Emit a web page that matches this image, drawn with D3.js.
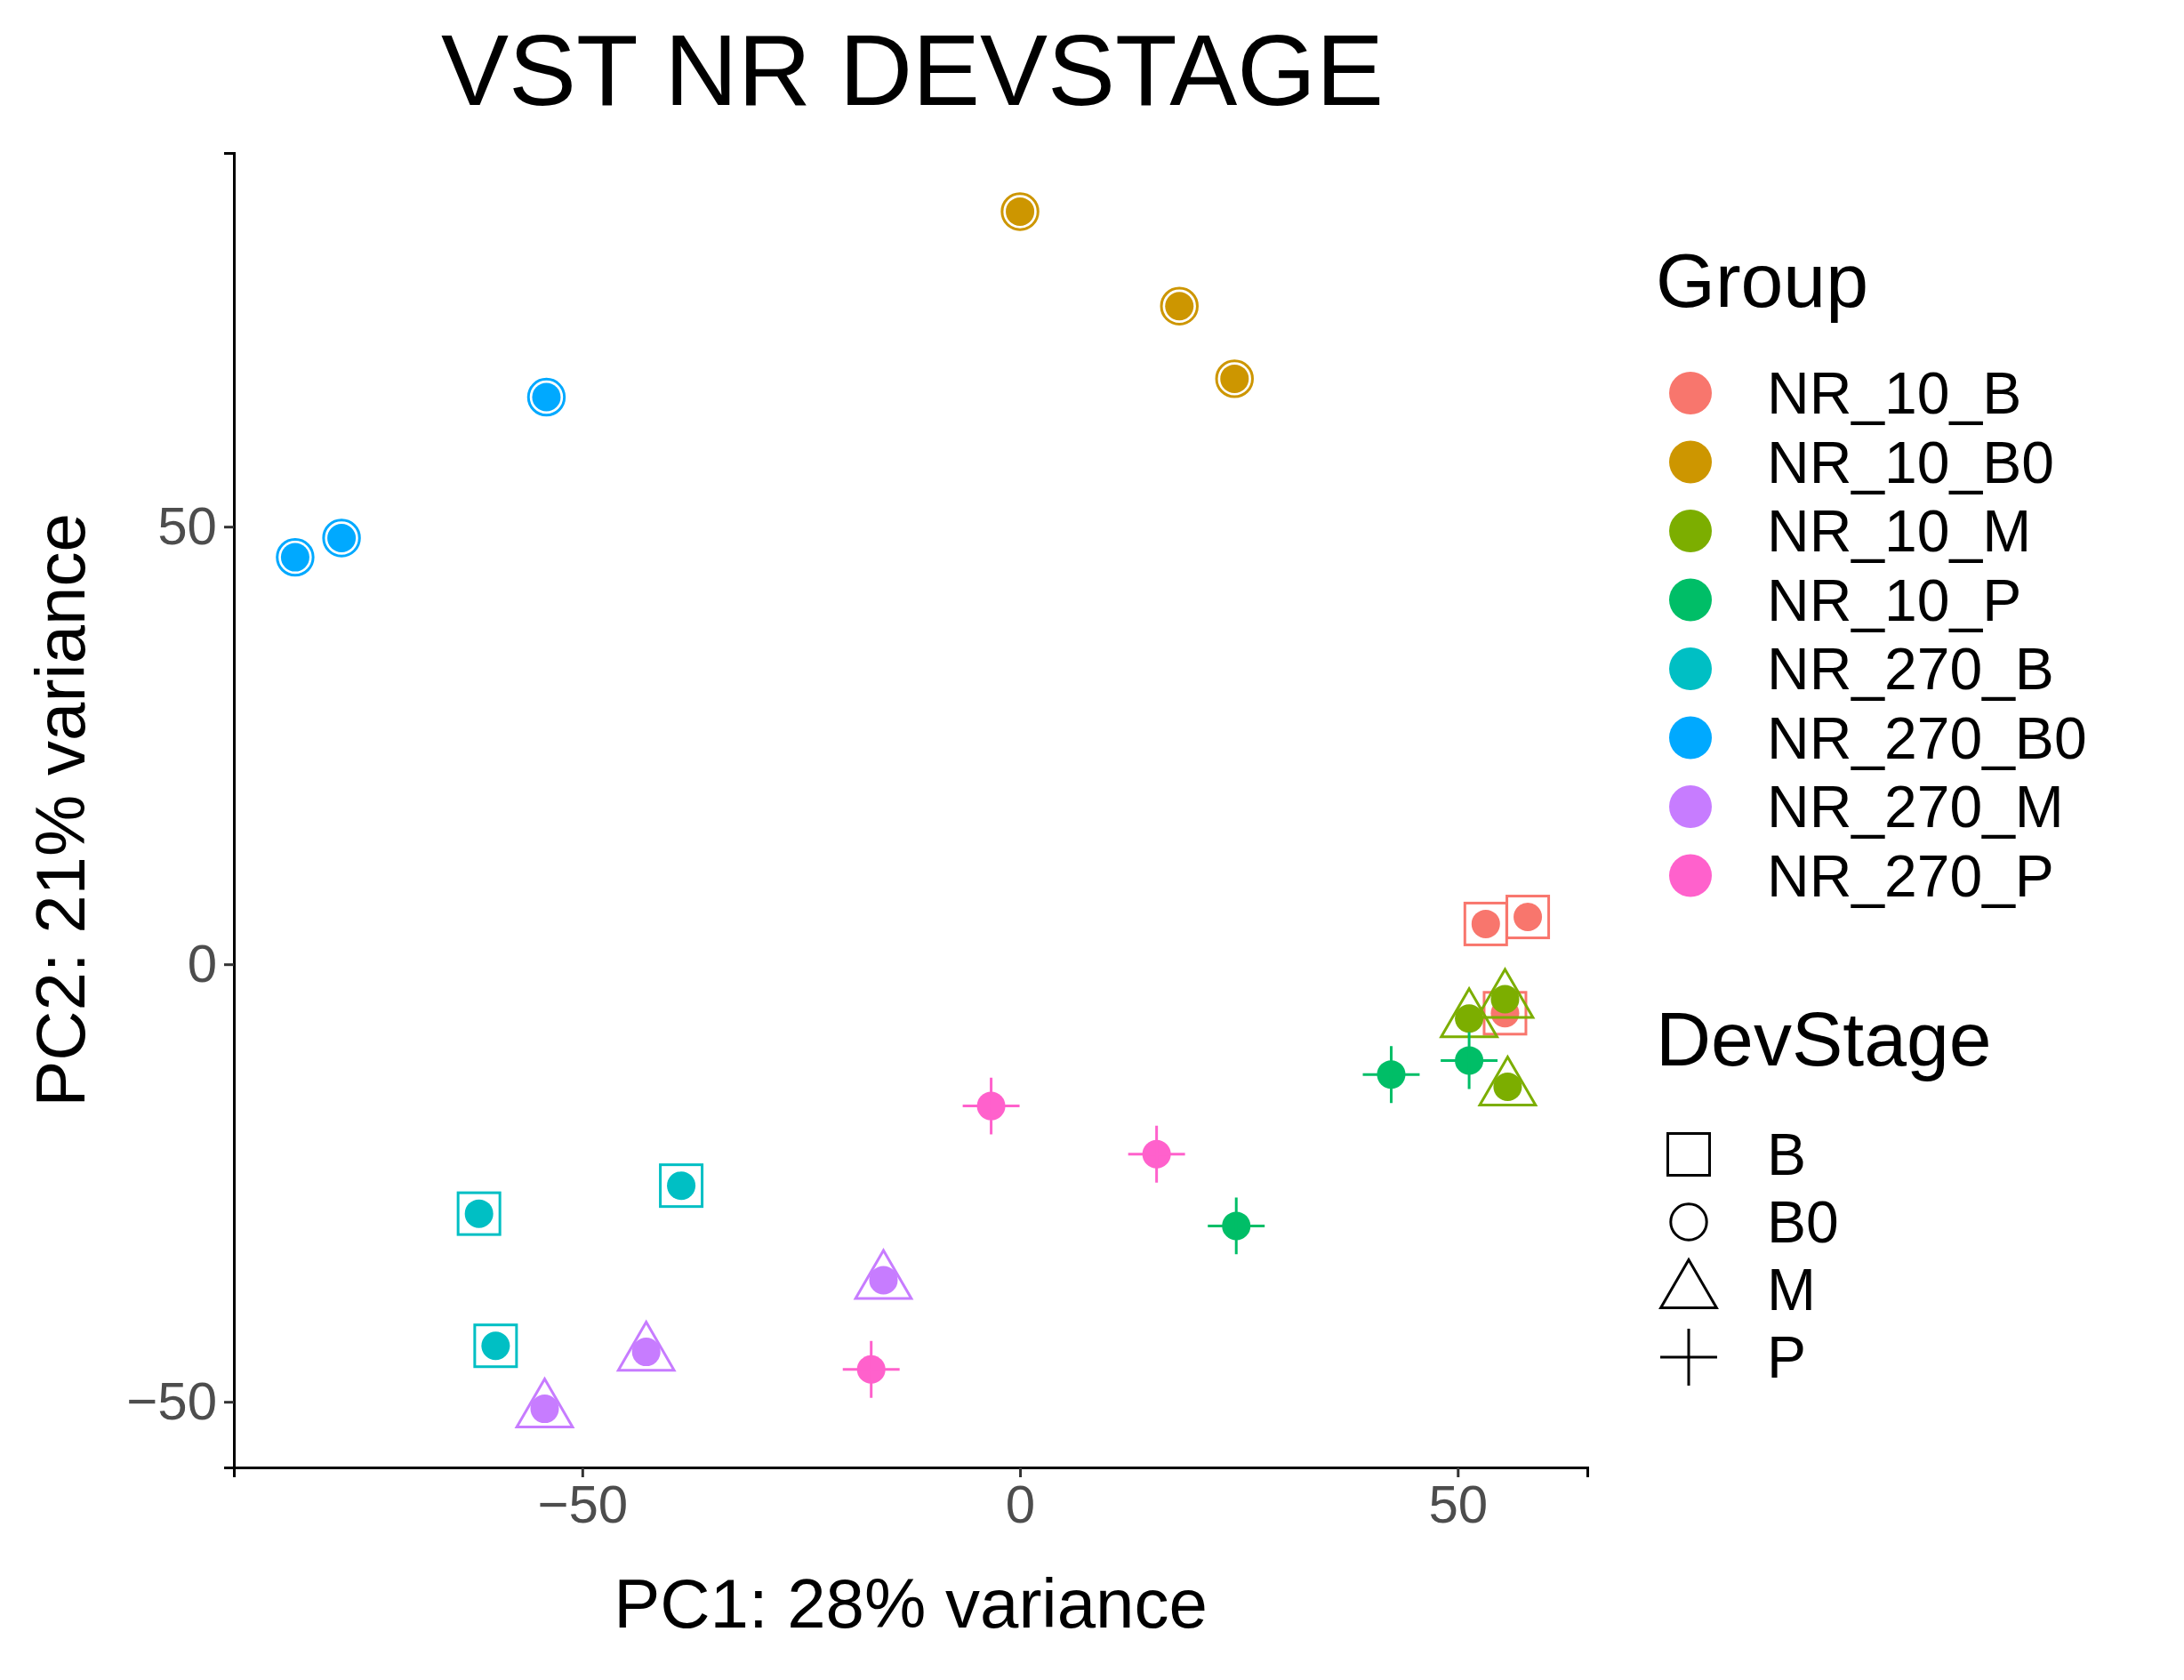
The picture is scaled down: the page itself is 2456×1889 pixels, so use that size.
<!DOCTYPE html>
<html><head><meta charset="utf-8">
<script src="https://cdn.jsdelivr.net/npm/d3@7"></script>
<style>body{margin:0;background:#fff}text{font-family:"Liberation Sans",Arial,sans-serif}</style>
</head><body><div id="chart"></div>
<script>
const groups = ["NR_10_B","NR_10_B0","NR_10_M","NR_10_P","NR_270_B","NR_270_B0","NR_270_M","NR_270_P"];
const colors = ["#F8766D","#CD9600","#7CAE00","#00BE67","#00BFC4","#00A9FF","#C77CFF","#FF61CC"];
const stages = ["B","B0","M","P"];
const pc1 = [53.2,58.0,55.4, 0,18.2,24.5, 55.4,51.3,55.7, 42.4,51.3,24.7, -61.8,-38.7,-59.9, -54.1,-77.5,-82.8, -15.6,-42.7,-54.3, -3.3,15.6,-17.0];
const pc2 = [4.6,5.4,-5.6, 86,75.2,66.9, -4.0,-6.2,-14.0, -12.6,-11.0,-29.9, -28.5,-25.3,-43.6, 64.8,48.7,46.5, -36.1,-44.3,-50.8, -16.2,-21.7,-46.3];
const groupOf = [0,0,0,1,1,1,2,2,2,3,3,3,4,4,4,5,5,5,6,6,6,7,7,7];
const ticks = [-50,0,50];

const W = 2456, H = 1889;
const svg = d3.select("#chart").append("svg").attr("width", W).attr("height", H);
const x = d3.scaleLinear().domain([-89.8,64.8]).range([263,1785]);
const y = d3.scaleLinear().domain([-57.5,92.7]).range([1650,172]);

function shape(g, st, col, s) {
    if (st === "B") g.append("rect").attr("x",-s/2).attr("y",-s/2).attr("width",s).attr("height",s)
        .attr("fill","none").attr("stroke",col).attr("stroke-width",3);
    else if (st === "B0") g.append("circle").attr("r",s*0.43).attr("fill","none").attr("stroke",col).attr("stroke-width",3);
    else if (st === "M") { const h=s*1.15; g.append("path").attr("d",`M0,${-h*0.62}L${h*0.58},${h*0.38}L${-h*0.58},${h*0.38}Z`)
        .attr("fill","none").attr("stroke",col).attr("stroke-width",3); }
    else g.append("path").attr("d",`M${-s*0.68},0H${s*0.68}M0,${-s*0.68}V${s*0.68}`).attr("stroke",col).attr("stroke-width",3);
}

// points
pc1.forEach((v,i) => {
    const gi = groupOf[i], st = stages[gi % 4];
    const g = svg.append("g").attr("transform",`translate(${x(v)},${y(pc2[i])})`);
    g.append("circle").attr("r",16).attr("fill",colors[gi]);
    shape(g, st, colors[gi], 47);
});

// axes
const ax = svg.append("g").attr("transform","translate(0,1650)").call(d3.axisBottom(x).tickValues(ticks).tickSize(11).tickPadding(8).tickFormat(d3.format("d")));
const ay = svg.append("g").attr("transform","translate(263,0)").call(d3.axisLeft(y).tickValues(ticks).tickSize(11).tickPadding(8).tickFormat(d3.format("d")));
[ax,ay].forEach(a => {
    a.select(".domain").attr("stroke","#000").attr("stroke-width",3);
    a.selectAll(".tick line").attr("stroke","#333").attr("stroke-width",3);
    a.selectAll(".tick text").attr("fill","#4D4D4D").style("font-size","60px");
});
svg.append("text").attr("x",1024).attr("y",1830).attr("text-anchor","middle").style("font-size","78px").text("PC1: 28% variance");
svg.append("text").attr("transform","translate(95,911) rotate(-90)").attr("text-anchor","middle").style("font-size","78px").text("PC2: 21% variance");
svg.append("text").attr("x",1026).attr("y",118).attr("text-anchor","middle").style("font-size","114px").text("VST NR DEVSTAGE");

// legends
svg.append("text").attr("x",1862).attr("y",345).style("font-size","86px").text("Group");
groups.forEach((gname,i) => {
    const yy = 442 + i*77.5;
    svg.append("circle").attr("cx",1901).attr("cy",yy).attr("r",24).attr("fill",colors[i]);
    svg.append("text").attr("x",1987).attr("y",yy+23).style("font-size","66px").text(gname);
});
svg.append("text").attr("x",1862).attr("y",1198).style("font-size","86px").text("DevStage");
stages.forEach((st,i) => {
    const yy = 1298 + i*76;
    const g = svg.append("g").attr("transform",`translate(1899,${yy})`);
    shape(g, st, "#000", 47);
    svg.append("text").attr("x",1987).attr("y",yy+23).style("font-size","66px").text(st);
});
</script></body></html>
